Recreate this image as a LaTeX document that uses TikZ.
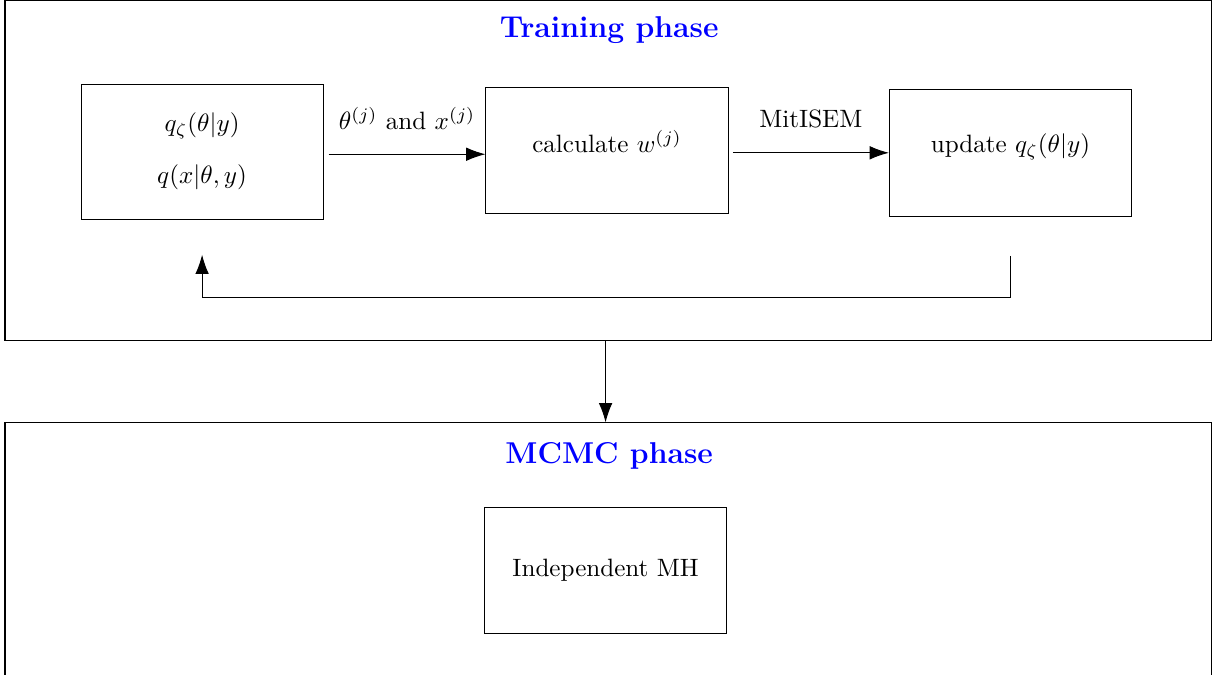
\documentclass[tikz,border=0pt]{standalone}
\usetikzlibrary{positioning,arrows.meta}
\begin{document}
\begin{tikzpicture}[arrow/.style={-{Latex[length=2.7mm,width=1.9mm]}},box/.style={draw,minimum width=3.39cm,minimum height=1.77cm,align=center},frame/.style={draw,minimum width=16.9cm},phase/.style={font=\large\bfseries,text=blue}]
\useasboundingbox (0,0) rectangle (17.0,9.45);
% the two phases
\node[frame,minimum height=4.76cm] (train) at (8.52,7.056) {};
\node[frame,minimum height=4.2cm] (mcmc) at (8.52,1.428) {};
\node[phase] (traintitle) at (8.53,9.03) {Training phase};
\node[phase] (mcmctitle) at (8.53,3.07) {MCMC phase};
% training loop
\node[box,minimum height=1.88cm,text depth=0.1cm] (prop) at (2.83,7.32) {$q_\zeta(\theta|y)$\\[8.7pt]$q(x|\theta,y)$};
\node[box,text depth=0.26cm] (calc) at (8.5,7.34) {calculate $w^{(j)}$};
\node[box,text depth=0.26cm] (upd) at (14.15,7.31) {update $q_\zeta(\theta|y)$};
\draw[arrow] ([xshift=0.07cm,yshift=-0.03cm]prop.east) -- ([yshift=-0.03cm]prop.east -| calc.west) node[midway,above=0.22cm] {$\theta^{(j)}$ and $x^{(j)}$};
\draw[arrow] ([xshift=0.06cm,yshift=-0.03cm]calc.east) -- ([yshift=-0.03cm]calc.east -| upd.west) node[midway,above=0.22cm] {MitISEM};
\coordinate[below=0.55cm of upd] (fbfrom);
\coordinate[below=0.49cm of prop] (fbto);
\draw[arrow] (fbfrom) -- ++(0,-0.58) -| (fbto);
% sampling
\node[box] (mh) at (8.48,1.46) {Independent MH};
\draw[arrow] (train.south -| mh.north) -- (mcmc.north -| mh.north);
\end{tikzpicture}
\end{document}
